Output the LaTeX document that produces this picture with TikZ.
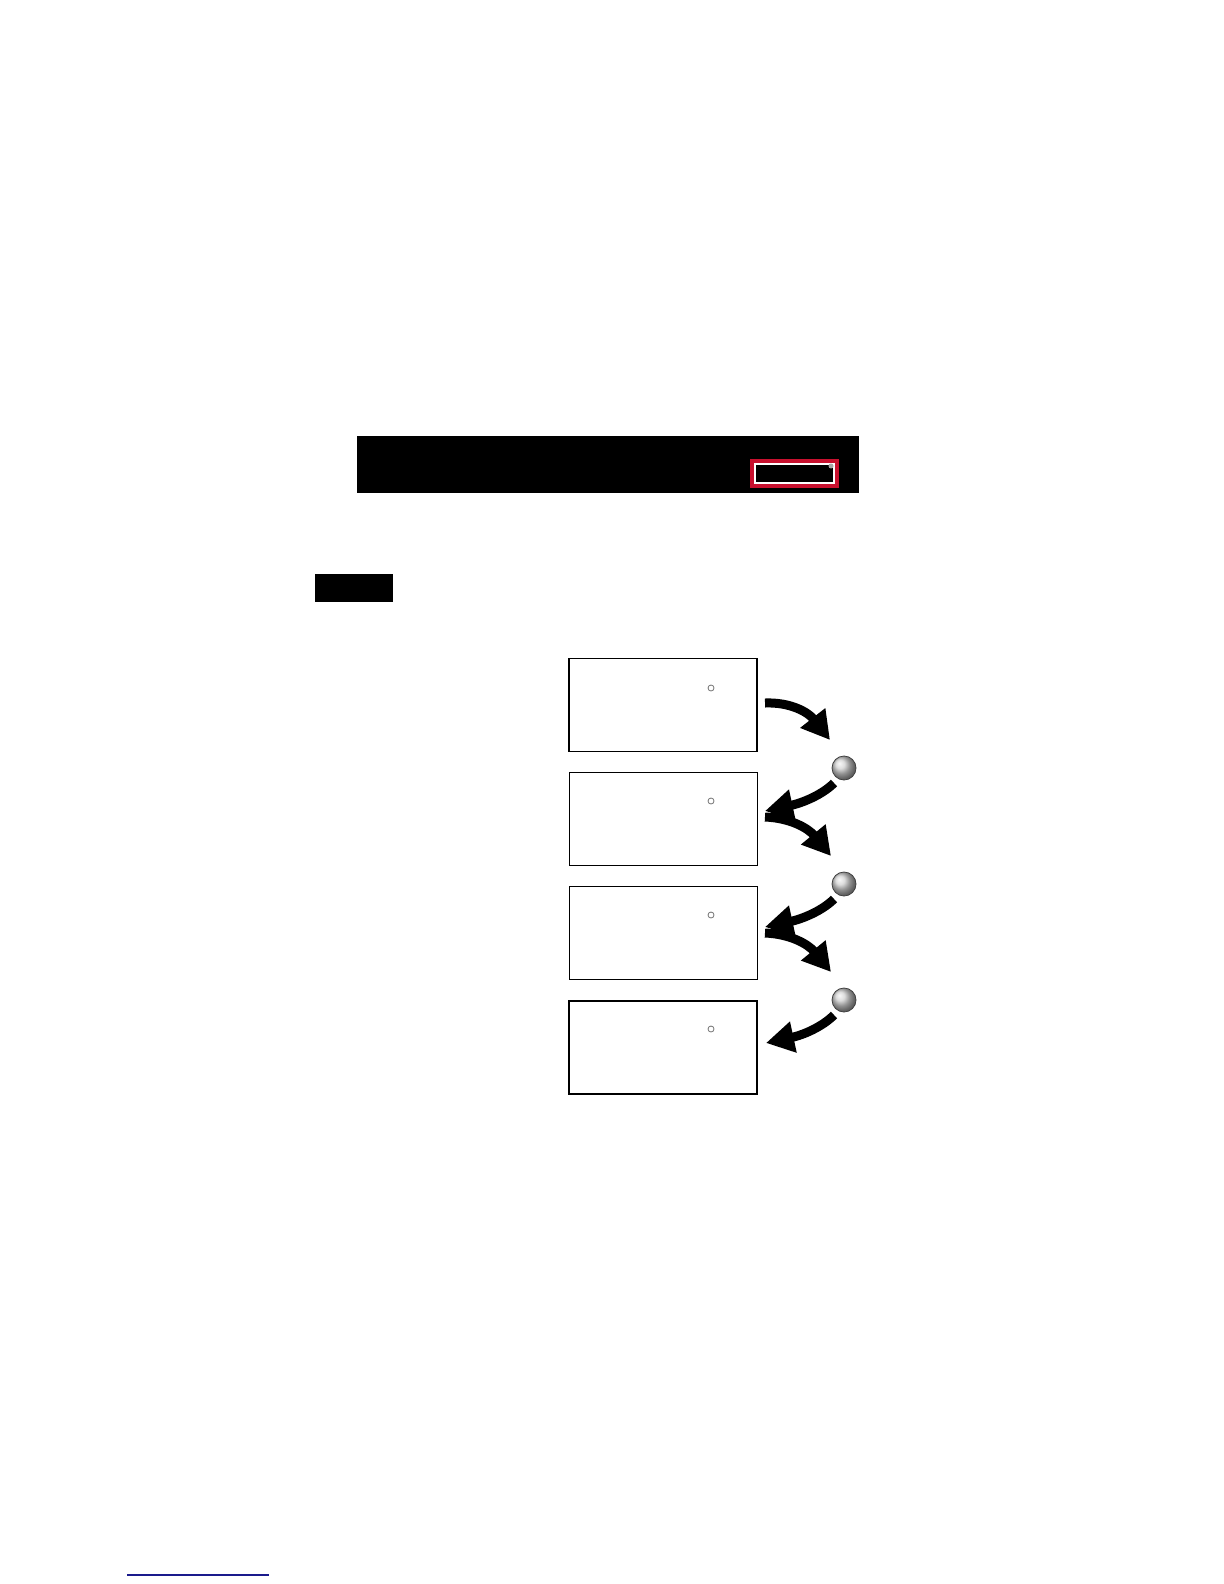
\documentclass[tikz,border=0pt]{standalone}
\usetikzlibrary{arrows.meta}
\definecolor{crimson}{HTML}{C8102E}
\definecolor{navyline}{HTML}{1A1A8C}
\tikzset{
  screen/.style={draw=black, line width=0.6pt, fill=white, minimum width=94pt, minimum height=46.5pt, inner sep=0pt},
  dot/.style={circle, draw=black!55, line width=0.4pt, minimum size=3pt, inner sep=0pt},
  knob/.style={circle, draw=black!75, line width=0.4pt, shading=ball, ball color=black!18, minimum size=12pt, inner sep=0pt},
  bigarrow/.style={line width=4.5pt, -{Triangle[length=14pt,width=15pt]}},
}
\begin{document}
\begin{tikzpicture}[x=0.5pt,y=-0.5pt]
\useasboundingbox (0,0) rectangle (1224,1584);
% top bar
\node[fill=black, minimum width=251pt, minimum height=28.5pt, inner sep=0pt] (bar) at (608,464.5) {};
\node[draw=crimson, line width=2pt, fill=black, minimum width=42.5pt, minimum height=12.5pt, inner sep=0pt] (redbox) at (794.5,473.5) {};
\node[draw=white, line width=1pt, fill=black, minimum width=39.5pt, minimum height=9.5pt, inner sep=0pt] (inbox) at (794.5,473.5) {};
\node[circle, fill=black!35, minimum size=2.5pt, inner sep=0pt] (bardot) at (831,466) {};
% small black tab
\node[fill=black, minimum width=39pt, minimum height=14pt, inner sep=0pt] (tab) at (354,588) {};
% screens
\node[screen] (s1) at (663,705) {};
\node[screen] (s2) at (663.5,819) {};
\node[screen] (s3) at (663.5,933) {};
\node[screen] (s4) at (663,1047.5) {};
\node[dot] (d1) at (711,688) {};
\node[dot] (d2) at (711,801) {};
\node[dot] (d3) at (711,915) {};
\node[dot] (d4) at (711,1029) {};
% knobs
\node[knob] (k1) at (844,768) {};
\node[knob] (k2) at (844,884) {};
\node[knob] (k3) at (844,1000) {};
% arrow ends
\coordinate (r1a) at (765,703); \coordinate (r1b) at (830,740);
\coordinate (l1a) at (834,783); \coordinate (l1b) at (765,811);
\coordinate (r2a) at (765,817); \coordinate (r2b) at (831,856);
\coordinate (l2a) at (834,899); \coordinate (l2b) at (765,927);
\coordinate (r3a) at (765,933); \coordinate (r3b) at (831,972);
\coordinate (l3a) at (834,1015); \coordinate (l3b) at (766,1043);
\draw[bigarrow] (r1a) .. controls (790,702) and (808,712) .. (r1b);
\draw[bigarrow] (l1a) .. controls (822,795) and (802,803) .. (l1b);
\draw[bigarrow] (r2a) .. controls (790,818) and (808,828) .. (r2b);
\draw[bigarrow] (l2a) .. controls (822,911) and (802,919) .. (l2b);
\draw[bigarrow] (r3a) .. controls (790,934) and (808,944) .. (r3b);
\draw[bigarrow] (l3a) .. controls (822,1027) and (803,1035) .. (l3b);
% footer line
\coordinate (fl) at (127,1575); \coordinate (fr) at (269,1575);
\draw[navyline, line width=0.7pt] (fl) -- (fr);
\end{tikzpicture}
\end{document}
